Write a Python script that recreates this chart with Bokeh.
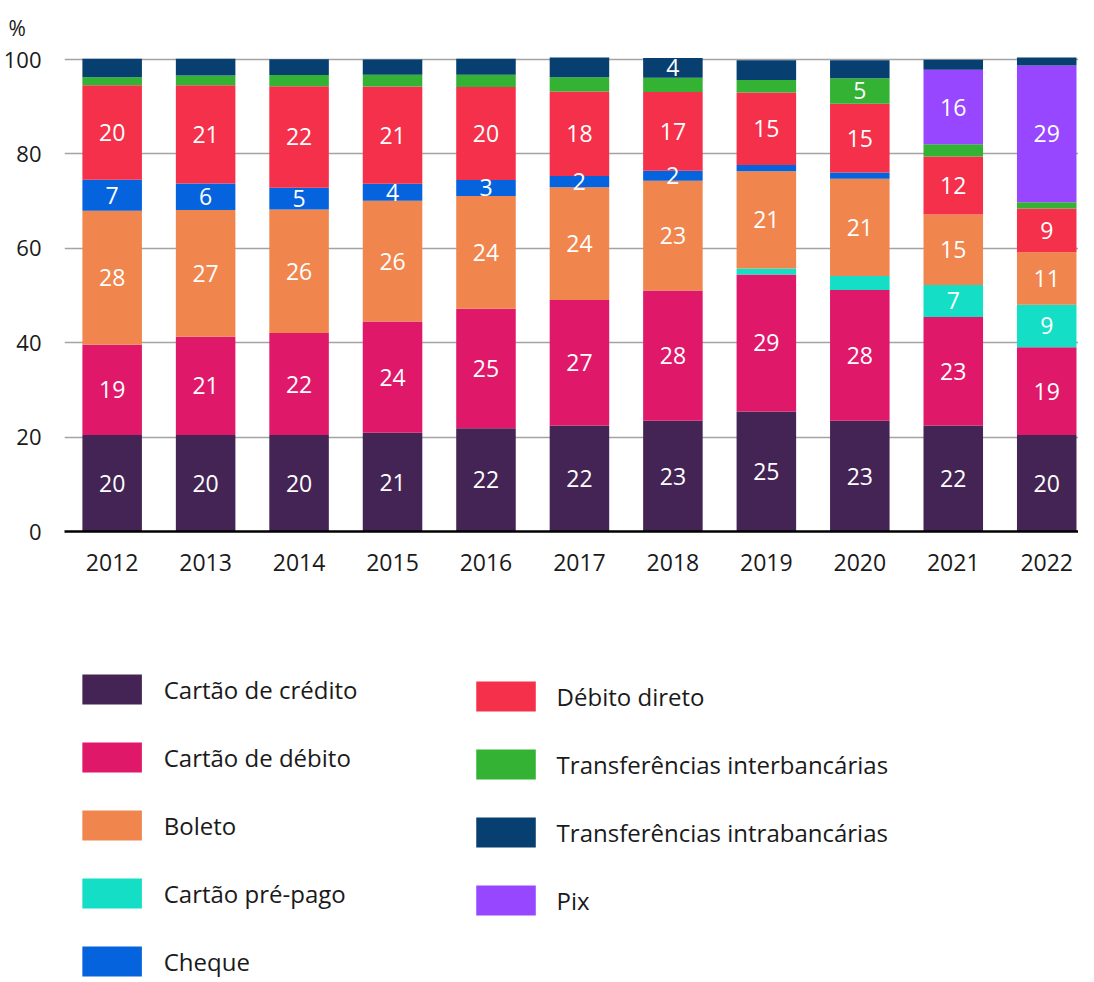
import numpy as np
from bokeh.plotting import figure
from bokeh.models import ColumnDataSource, Range1d, FixedTicker
from bokeh.layouts import column
from bokeh.core.properties import value
from bokeh.embed import file_html
from bokeh.resources import INLINE

# ---------------- data ----------------
years = ["2012", "2013", "2014", "2015", "2016", "2017", "2018", "2019", "2020", "2021", "2022"]

credito = [20.45, 20.45, 20.45, 20.9, 21.9, 22.45, 23.45, 25.45, 23.45, 22.45, 20.45]
debito = [19.1, 20.8, 21.6, 23.6, 25.3, 26.6, 27.6, 29.0, 27.7, 23.0, 18.6]
prepago = [0, 0, 0, 0, 0, 0, 0, 1.3, 3.0, 6.8, 9.0]
boleto = [28.4, 26.9, 26.2, 25.6, 23.9, 23.9, 23.3, 20.6, 20.6, 14.9, 11.1]
cheque = [6.6, 5.6, 4.6, 3.6, 3.4, 2.4, 2.1, 1.3, 1.3, 0, 0]
debito_direto = [20.0, 20.8, 21.5, 20.6, 19.7, 17.9, 16.7, 15.4, 14.6, 12.3, 9.3]
inter = [1.7, 2.1, 2.4, 2.5, 2.6, 3.0, 3.0, 2.6, 5.4, 2.6, 1.3]
pix = [0, 0, 0, 0, 0, 0, 0, 0, 0, 15.8, 29.0]
intra = [3.9, 3.5, 3.3, 3.2, 3.4, 4.2, 4.2, 4.2, 3.8, 2.1, 1.7]

# which years carry a printed value label
lab_credito = years
lab_debito = years
lab_prepago = ["2021", "2022"]
lab_boleto = years
lab_cheque = ["2012", "2013", "2014", "2015", "2016", "2017", "2018"]
lab_debito_direto = years
lab_inter = ["2020"]
lab_pix = ["2021", "2022"]
lab_intra = ["2018"]

# stacking order (bottom -> top)
series = [
    ("credito", "Cartão de crédito", credito, lab_credito, "#432454"),
    ("debito", "Cartão de débito", debito, lab_debito, "#E0186A"),
    ("prepago", "Cartão pré-pago", prepago, lab_prepago, "#14DEC5"),
    ("boleto", "Boleto", boleto, lab_boleto, "#F0854D"),
    ("cheque", "Cheque", cheque, lab_cheque, "#0563DE"),
    ("debito_direto", "Débito direto", debito_direto, lab_debito_direto, "#F4304A"),
    ("inter", "Transferências interbancárias", inter, lab_inter, "#33B233"),
    ("pix", "Pix", pix, lab_pix, "#9747FF"),
    ("intra", "Transferências intrabancárias", intra, lab_intra, "#073F70"),
]
colors = {k: c for k, _, _, _, c in series}
names = {k: n for k, n, _, _, _ in series}

legend_col1 = ["credito", "debito", "boleto", "prepago", "cheque"]
legend_col2 = ["debito_direto", "inter", "intra", "pix"]

FONT = "Open Sans"
W = 1078
LEFT = 56
TOP = 51
BOTTOM = 77
H = 608
XS, XE = -0.51, 10.34
YS, YE = 0, 101.5

# ---------------- chart ----------------
xpos = np.arange(len(years), dtype=float)
src = ColumnDataSource({"x": xpos, **{k: v for k, _, v, _, _ in series}})

p = figure(width=W, height=H, output_backend="svg", toolbar_location=None,
           x_range=Range1d(XS, XE), y_range=Range1d(YS, YE),
           min_border_left=LEFT, min_border_right=0, min_border_top=TOP, min_border_bottom=BOTTOM)
p.outline_line_color = None
p.background_fill_color = "white"
p.border_fill_color = "white"

p.vbar_stack([k for k, _, _, _, _ in series], x="x", width=0.637,
             color=[c for _, _, _, _, c in series], line_color=None, source=src)

# value labels
bottom = np.zeros(len(years))
lx, ly, lt = [], [], []
for k, _, vals, labs, _ in series:
    v = np.array(vals, dtype=float)
    mid = bottom + v / 2
    for i, y in enumerate(years):
        if y in labs and v[i] > 0:
            lx.append(xpos[i]); ly.append(mid[i]); lt.append(f"{round(v[i])}")
    bottom = bottom + v
p.text(x=lx, y=ly, text=lt, text_color="white", text_font=value(FONT),
       text_font_size="23px", text_align="center", text_baseline="middle")

# axes
p.xaxis.ticker = FixedTicker(ticks=list(xpos))
p.xaxis.major_label_overrides = {i: y for i, y in enumerate(years)}
p.xaxis.axis_line_color = "black"
p.xaxis.axis_line_width = 2.5
p.xaxis.major_tick_line_color = None
p.xaxis.minor_tick_line_color = None
p.xaxis.major_label_standoff = 16
p.xaxis.major_label_text_font = FONT
p.xaxis.major_label_text_font_size = "23px"
p.xaxis.major_label_text_color = "#1a1a1a"

p.yaxis.ticker = FixedTicker(ticks=[0, 20, 40, 60, 80, 100])
p.yaxis.axis_line_color = None
p.yaxis.major_tick_line_color = None
p.yaxis.minor_tick_line_color = None
p.yaxis.major_label_standoff = 17
p.yaxis.major_label_text_font = FONT
p.yaxis.major_label_text_font_size = "22px"
p.yaxis.major_label_text_color = "#1a1a1a"

p.xgrid.grid_line_color = None
p.ygrid.grid_line_color = "#a3a3a3"
p.ygrid.grid_line_width = 1.5

# unit label "%" above the y axis
p.title.text = "%"
p.title.align = "left"
p.title.offset = -LEFT
p.title.standoff = 22
p.title.text_font = FONT
p.title.text_font_size = "21px"
p.title.text_font_style = "normal"
p.title.text_color = "#1a1a1a"

# ---------------- legend ----------------
LH = 372
leg = figure(width=W, height=LH, output_backend="svg", toolbar_location=None,
             x_range=Range1d(LEFT, W), y_range=Range1d(LH, 0),
             x_axis_location=None, y_axis_location=None,
             min_border=0, min_border_left=LEFT, min_border_right=0,
             min_border_top=0, min_border_bottom=0)
leg.outline_line_color = None
leg.xgrid.visible = False
leg.ygrid.visible = False

sx, sy, sc, tx, ty, tt = [], [], [], [], [], []
for j, k in enumerate(legend_col1):
    yc = 81 + 68 * j
    sx.append(104); sy.append(yc); sc.append(colors[k])
    tx.append(156); ty.append(yc); tt.append(names[k])
for j, k in enumerate(legend_col2):
    yc = 88 + 68 * j
    sx.append(501); sy.append(yc); sc.append(colors[k])
    tx.append(552); ty.append(yc); tt.append(names[k])

leg.rect(x=sx, y=sy, width=60, height=30, fill_color=sc, line_color=None)
leg.text(x=tx, y=ty, text=tt, text_color="#1a1a1a", text_font=value(FONT),
         text_font_size="24px", text_align="left", text_baseline="middle")

layout = column(p, leg, spacing=0)
open("out.html", "w").write(file_html(layout, INLINE))
